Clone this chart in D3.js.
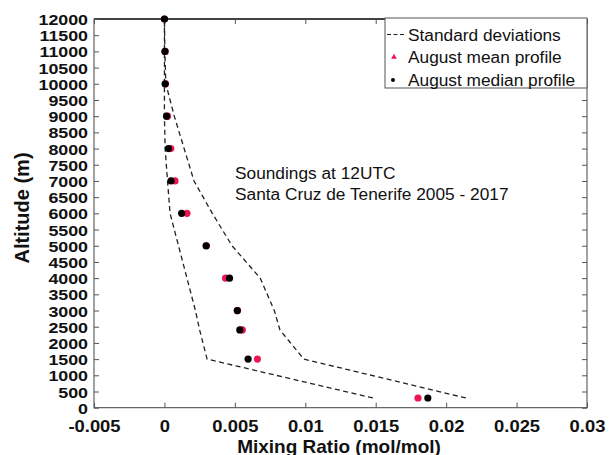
<!DOCTYPE html>
<html>
<head>
<meta charset="utf-8">
<script src="https://cdn.jsdelivr.net/npm/d3@7"></script>
<style>
  html, body { margin: 0; padding: 0; background: #fff; }
  svg { display: block; }
  text { font-family: "Liberation Sans", Arial, Helvetica, sans-serif; fill: #111; }
</style>
</head>
<body>
<svg id="chart" width="612" height="455"></svg>
<script>
// ---- data ----
const altitudes = [300, 1500, 2400, 3000, 4000, 5000, 6000, 7000, 8000, 9000, 10000, 11000, 12000];
const medianProfile = [0.0187, 0.00594, 0.00535, 0.00517, 0.00462, 0.00296, 0.00122, 0.00047, 0.00028, 0.00015, 0.00005, 0.00004, 0.0];
const meanProfile   = [0.0180, 0.0066, 0.00553, 0.00519, 0.00434, 0.00298, 0.0016, 0.00075, 0.00045, 0.00022, 0.00008, 0.00005, 0.0];
const stdLower = [0.0148, 0.00303, 0.0025, 0.0022, 0.0016, 0.001, 0.0004, 0.00022, 0.00005, 0.0, 0.0, 0.0, 0.0];
const stdUpper = [0.0214, 0.0099, 0.0082, 0.0078, 0.0068, 0.0048, 0.0034, 0.0021, 0.0014, 0.0007, 0.0001, 0.00003, 0.0];
const xTicks = [-0.005, 0, 0.005, 0.01, 0.015, 0.02, 0.025, 0.03];
const xTickLabels = ["-0.005", "0", "0.005", "0.01", "0.015", "0.02", "0.025", "0.03"];
const yTicks = d3.range(0, 12001, 500);
const legendLabels = ["Standard deviations", "August mean profile", "August median profile"];
const annotation = ["Soundings at 12UTC", "Santa Cruz de Tenerife 2005 - 2017"];
const xTitle = "Mixing Ratio (mol/mol)";
const yTitle = "Altitude (m)";

// ---- layout ----
const L = 94, R = 587, T = 19, B = 407.7;
const svg = d3.select("#chart");
const x = d3.scaleLinear().domain([-0.005, 0.03]).range([L, R]);
const y = d3.scaleLinear().domain([0, 12000]).range([B, T]);
const SX = 1.15;

// frame
svg.append("rect").attr("x", L).attr("y", T).attr("width", R - L).attr("height", B - T)
  .attr("fill", "none").attr("stroke", "#444").attr("stroke-width", 1);
svg.append("line").attr("x1", L).attr("x2", R).attr("y1", T).attr("y2", T)
  .attr("stroke", "#222").attr("stroke-width", 1.6);

// axes
const fmtX = (d) => xTickLabels[xTicks.indexOf(d)];
const xAxis = svg.append("g").attr("transform", `translate(0,${B})`)
  .call(d3.axisBottom(x).tickValues(xTicks).tickFormat(fmtX).tickSize(-5).tickPadding(0));
const xAxisTop = svg.append("g").attr("transform", `translate(0,${T})`)
  .call(d3.axisTop(x).tickValues(xTicks).tickFormat("").tickSize(-5));
const yAxis = svg.append("g").attr("transform", `translate(${L},0)`)
  .call(d3.axisLeft(y).tickValues(yTicks).tickFormat(d3.format("d")).tickSize(-5).tickPadding(0));
const yAxisR = svg.append("g").attr("transform", `translate(${R},0)`)
  .call(d3.axisRight(y).tickValues(yTicks).tickFormat("").tickSize(-5));

[xAxis, xAxisTop, yAxis, yAxisR].forEach(g => {
  g.select(".domain").remove();
  g.selectAll(".tick line").attr("stroke", "#555").attr("stroke-width", 1);
});

xAxis.selectAll(".tick text")
  .attr("font-size", 16).attr("font-weight", "bold").attr("fill", "#111")
  .attr("font-family", "Liberation Sans, Arial, sans-serif")
  .attr("y", 24).attr("dy", 0)
  .attr("transform", `scale(${SX},1)`);

yAxis.selectAll(".tick text")
  .attr("font-size", 15.5).attr("font-weight", "bold").attr("fill", "#111")
  .attr("font-family", "Liberation Sans, Arial, sans-serif")
  .attr("x", -6 / SX).attr("dy", "0.36em")
  .attr("transform", `scale(${SX},1)`);

// axis titles
svg.append("text").attr("x", 339).attr("y", 452.5).attr("text-anchor", "middle")
  .attr("font-size", 19).attr("font-weight", "bold").text(xTitle);
svg.append("text").attr("transform", "translate(29,208) rotate(-90)").attr("text-anchor", "middle")
  .attr("font-size", 20).attr("font-weight", "bold").text(yTitle);

// std deviation dashed lines
const stdLine = (arr) => d3.line().x((d, i) => x(arr[i])).y((d) => y(d))(altitudes);
[stdLower, stdUpper].forEach(arr => {
  svg.append("path").attr("d", stdLine(arr)).attr("fill", "none")
    .attr("stroke", "#222").attr("stroke-width", 1.3).attr("stroke-dasharray", "5,3.5");
});

// points: mean (red) then median (black)
svg.append("g").selectAll("circle").data(altitudes).join("circle")
  .attr("cx", (d, i) => x(meanProfile[i])).attr("cy", (d) => y(d)).attr("r", 3.6)
  .attr("fill", "#ee1652");
svg.append("g").selectAll("circle").data(altitudes).join("circle")
  .attr("cx", (d, i) => x(medianProfile[i])).attr("cy", (d) => y(d)).attr("r", 3.6)
  .attr("fill", "#000");

// annotation
annotation.forEach((t, i) => {
  svg.append("text").attr("x", 235).attr("y", 178.5 + i * 21).attr("font-size", 17.3)
    .attr("fill", "#222").text(t);
});

// legend
const lg = svg.append("g");
lg.append("rect").attr("x", 385).attr("y", 18).attr("width", 202).attr("height", 70)
  .attr("fill", "#fff").attr("stroke", "#555").attr("stroke-width", 1);
const rows = [40.5, 63, 85.5];
legendLabels.forEach((t, i) => {
  lg.append("text").attr("x", 408).attr("y", rows[i]).attr("font-size", 17.3)
    .attr("fill", "#222").text(t);
});
lg.append("line").attr("x1", 387).attr("x2", 404).attr("y1", 34.5).attr("y2", 34.5)
  .attr("stroke", "#222").attr("stroke-width", 1.2).attr("stroke-dasharray", "4,2.5");
lg.append("path").attr("d", d3.symbol().type(d3.symbolTriangle).size(14)())
  .attr("transform", "translate(394,57)").attr("fill", "#ee1652");
lg.append("circle").attr("cx", 393).attr("cy", 80).attr("r", 2).attr("fill", "#000");
</script>
</body>
</html>
